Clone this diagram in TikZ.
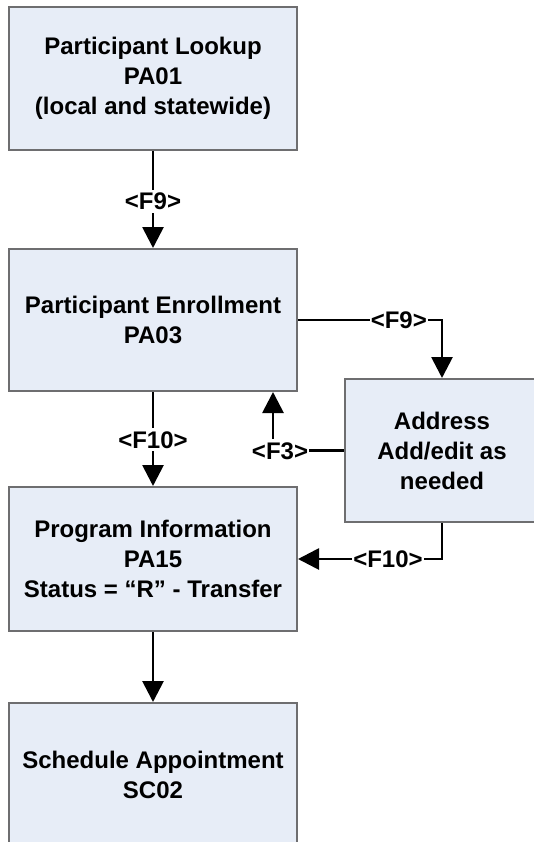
\documentclass[tikz,border=0pt]{standalone}
\usepackage{fontspec}
\setmainfont{Liberation Sans}
\usetikzlibrary{arrows.meta}
\definecolor{boxfill}{RGB}{231,237,247}
\definecolor{boxline}{RGB}{110,110,112}
\begin{document}
\begin{tikzpicture}[x=1pt,y=-1pt,
  box/.style={draw=boxline, line width=2pt, fill=boxfill, rectangle, align=center,
    font=\fontsize{24}{30}\selectfont\bfseries, inner sep=0pt},
  lbl/.style={fill=white, inner xsep=1pt, inner ysep=3pt, font=\fontsize{24}{28}\selectfont\bfseries},
  arr/.style={line width=2.8pt, -{Triangle[length=21pt,width=21pt]}}
]
\useasboundingbox (0,0) rectangle (534,842);
\clip (0,0) rectangle (534,842);
\node[box, minimum width=288pt, minimum height=143pt] (lookup) at (153,78.5)
  {Participant Lookup\\PA01\\(local and statewide)};
\node[box, minimum width=288pt, minimum height=142pt] (enroll) at (153,320)
  {Participant Enrollment\\PA03};
\node[box, minimum width=194pt, minimum height=143pt] (addr) at (442,450.5)
  {Address\\Add/edit as\\needed};
\node[box, minimum width=288pt, minimum height=144pt] (prog) at (153,559)
  {Program Information\\PA15\\Status = “R” - Transfer};
\node[box, minimum width=288pt, minimum height=143pt] (sched) at (153,774.5)
  {Schedule Appointment\\SC02};
% connectors
\draw[arr] (lookup.south) -- node[lbl, pos=0.52] {<F9>} (enroll.north);
\draw[arr] (enroll.east) -- node[lbl, pos=0.7] {<F9>} (enroll.east -| addr.north) -- (addr.north);
\coordinate (f3c) at (273,450.5);
\draw[arr] (addr.west) -- (f3c) -- (f3c |- enroll.south);
\node[lbl] (f3lbl) at (280,451) {<F3>};
\draw[arr] (enroll.south) -- node[lbl, pos=0.51] {<F10>} (prog.north);
\draw[arr] (addr.south) -- (addr.south |- prog.east) -- node[lbl, pos=0.375] {<F10>} (prog.east);
\draw[arr] (prog.south) -- (sched.north);
\end{tikzpicture}
\end{document}
